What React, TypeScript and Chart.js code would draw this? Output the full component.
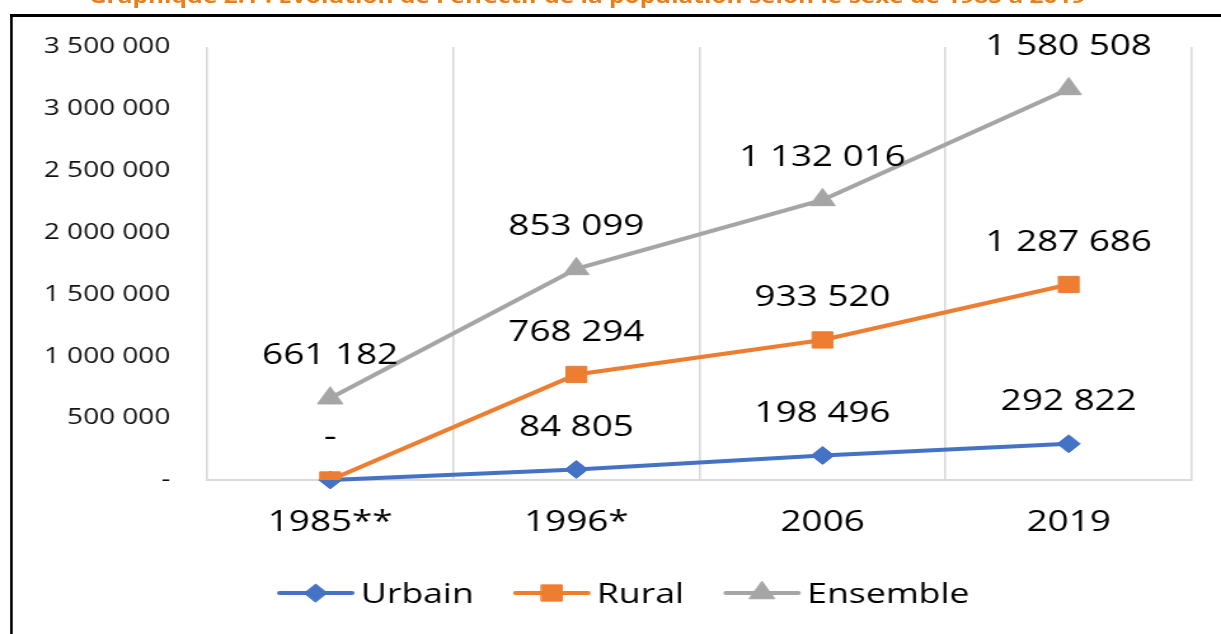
import React, { useEffect, useRef } from 'react';
import { Chart, registerables } from 'chart.js';
import { drawPoint } from 'chart.js/helpers';

Chart.register(...registerables);

// ---- data ----
const categories = ['1985**', '1996*', '2006', '2019'];
const seriesNames = ['Urbain', 'Rural', 'Ensemble'];
const urbain = [0, 84805, 198496, 292822];
const rural = [0, 768294, 933520, 1287686];
const ensemble = [661182, 853099, 1132016, 1580508];
const yTicks = [0, 500000, 1000000, 1500000, 2000000, 2500000, 3000000, 3500000];
const titleText = "Graphique  2.1 : Evolution de l'effectif de la population selon le sexe de 1985 à 2019";

// ---- styles ----
const S = 1221 / 961; // horizontal stretch of the original picture
const W = 961;
const H = 634;
const FONT = '"Open Sans", "Noto Sans", sans-serif';
const colors = ['#4472C4', '#ED7D31', '#A5A5A5'];
const pointStyles = ['rectRot', 'rect', 'triangle'];
const pointRadii = [9, 11.5, 11.5];

const fmt = (v: number) =>
  v === 0 ? '-' : String(Math.round(v)).replace(/\B(?=(\d{3})+(?!\d))/g, ' ');

const valueLabels = {
  id: 'valueLabels',
  afterDatasetsDraw(chart: any) {
    const ctx = chart.ctx;
    ctx.save();
    ctx.font = `29px ${FONT}`;
    ctx.fillStyle = '#000';
    ctx.textAlign = 'center';
    ctx.textBaseline = 'middle';
    chart.data.datasets.forEach((ds: any, i: number) => {
      const meta = chart.getDatasetMeta(i);
      meta.data.forEach((el: any, j: number) => {
        ctx.fillText(fmt(ds.data[j]), el.x, el.y - 42);
      });
    });
    ctx.restore();
  },
};

// draw Urbain first so Rural markers sit on top of it (stack order unchanged)
const drawOrder = {
  id: 'drawOrder',
  beforeDatasetsDraw(chart: any) {
    const meta = chart.getDatasetMeta(0);
    if (meta && meta.controller) meta.controller.draw();
  },
  beforeDatasetDraw(_chart: any, args: any) {
    if (args.index === 0) return false;
    return undefined;
  },
};

const customLegend = {
  id: 'customLegend',
  afterDraw(chart: any) {
    const ctx = chart.ctx;
    ctx.save();
    ctx.font = `28px ${FONT}`;
    const symW = 57;
    const gap = 7;
    const itemGap = 33;
    const items = chart.data.datasets.map((ds: any, i: number) => ({
      ds,
      i,
      tw: ctx.measureText(ds.label).width,
    }));
    const total =
      items.reduce((a: number, it: any) => a + symW + gap + it.tw, 0) + itemGap * (items.length - 1);
    let x = chart.width / 2 + 11 - total / 2;
    const y = 593;
    for (const it of items) {
      ctx.strokeStyle = colors[it.i];
      ctx.lineWidth = 4;
      ctx.lineCap = 'round';
      ctx.beginPath();
      ctx.moveTo(x, y);
      ctx.lineTo(x + symW, y);
      ctx.stroke();
      ctx.fillStyle = colors[it.i];
      ctx.lineWidth = 1;
      drawPoint(
        ctx,
        { pointStyle: pointStyles[it.i], rotation: 0, radius: pointRadii[it.i], borderWidth: 1 } as any,
        x + symW / 2,
        y
      );
      ctx.fillStyle = '#000';
      ctx.textAlign = 'left';
      ctx.textBaseline = 'alphabetic';
      ctx.fillText(it.ds.label, x + symW + gap, y + 10);
      x += symW + gap + it.tw + itemGap;
    }
    ctx.restore();
  },
};

export default function App() {
  const ref = useRef<HTMLCanvasElement>(null);
  const titleRef = useRef<HTMLDivElement>(null);

  useEffect(() => {
    const t = titleRef.current;
    if (t) {
      const targetW = 785;
      const fs = (17 * targetW) / t.scrollWidth;
      t.style.fontSize = `${fs}px`;
      t.style.lineHeight = `${fs}px`;
      t.style.top = `${2.8 - 0.888 * fs}px`;
    }
    const canvas = ref.current!;
    const datasets = seriesNames.map((name, i) => ({
      label: name,
      data: [urbain, rural, ensemble][i],
      borderColor: colors[i],
      backgroundColor: colors[i],
      pointBackgroundColor: colors[i],
      pointBorderColor: colors[i],
      pointBorderWidth: 1,
      pointStyle: pointStyles[i],
      pointRadius: pointRadii[i],
      borderWidth: 4,
      tension: 0,
      fill: false,
    }));
    const chart = new Chart(canvas, {
      type: 'line',
      data: { labels: categories, datasets: datasets as any },
      plugins: [drawOrder, valueLabels, customLegend],
      options: {
        animation: false,
        responsive: false,
        devicePixelRatio: 1,
        events: [],
        layout: { padding: { left: 0, right: 23, top: 47, bottom: 74 } },
        plugins: {
          legend: { display: false },
          tooltip: { enabled: false },
          title: { display: false },
        },
        scales: {
          x: {
            offset: true,
            grid: { offset: true, color: '#d9d9d9', lineWidth: 1.6, drawTicks: false },
            border: { display: true, color: '#d9d9d9', width: 2 },
            ticks: { font: { family: FONT, size: 29 }, color: '#000', padding: 25, maxRotation: 0 },
            afterFit: (s: any) => {
              s.height = 80;
            },
          },
          y: {
            stacked: true,
            min: 0,
            max: 3500000,
            grid: { display: false, drawTicks: false },
            border: { display: false },
            afterBuildTicks: (s: any) => {
              s.ticks = yTicks.map((v) => ({ value: v }));
            },
            ticks: {
              font: { family: FONT, size: 22 },
              color: '#111',
              padding: 29,
              callback: (v: any) => fmt(Number(v)),
            },
            afterFit: (s: any) => {
              s.width = 163;
            },
          },
        },
      } as any,
    });
    return () => chart.destroy();
  }, []);

  return (
    <div
      style={{
        position: 'fixed',
        left: 0,
        top: 0,
        width: 1221,
        height: H,
        overflow: 'hidden',
        background: '#fff',
      }}
    >
      <div
        style={{
          position: 'absolute',
          left: 0,
          top: 0,
          width: W,
          height: H,
          transform: `scaleX(${S})`,
          transformOrigin: '0 0',
        }}
      >
        <div
          ref={titleRef}
          style={{
            position: 'absolute',
            left: 70,
            top: -12,
            whiteSpace: 'nowrap',
            fontFamily: FONT,
            fontWeight: 700,
            fontSize: 17,
            lineHeight: '17px',
            color: '#E8801A',
          }}
        >
          {titleText}
        </div>
        <div
          style={{
            position: 'absolute',
            left: 7.9,
            top: 14,
            width: 2000,
            height: 2000,
            borderTop: '3px solid #000',
            borderLeft: '2.4px solid #000',
            boxSizing: 'border-box',
          }}
        />
        <canvas
          ref={ref}
          width={W}
          height={H}
          style={{ position: 'absolute', left: 0, top: 0, width: W, height: H }}
        />
      </div>
    </div>
  );
}
